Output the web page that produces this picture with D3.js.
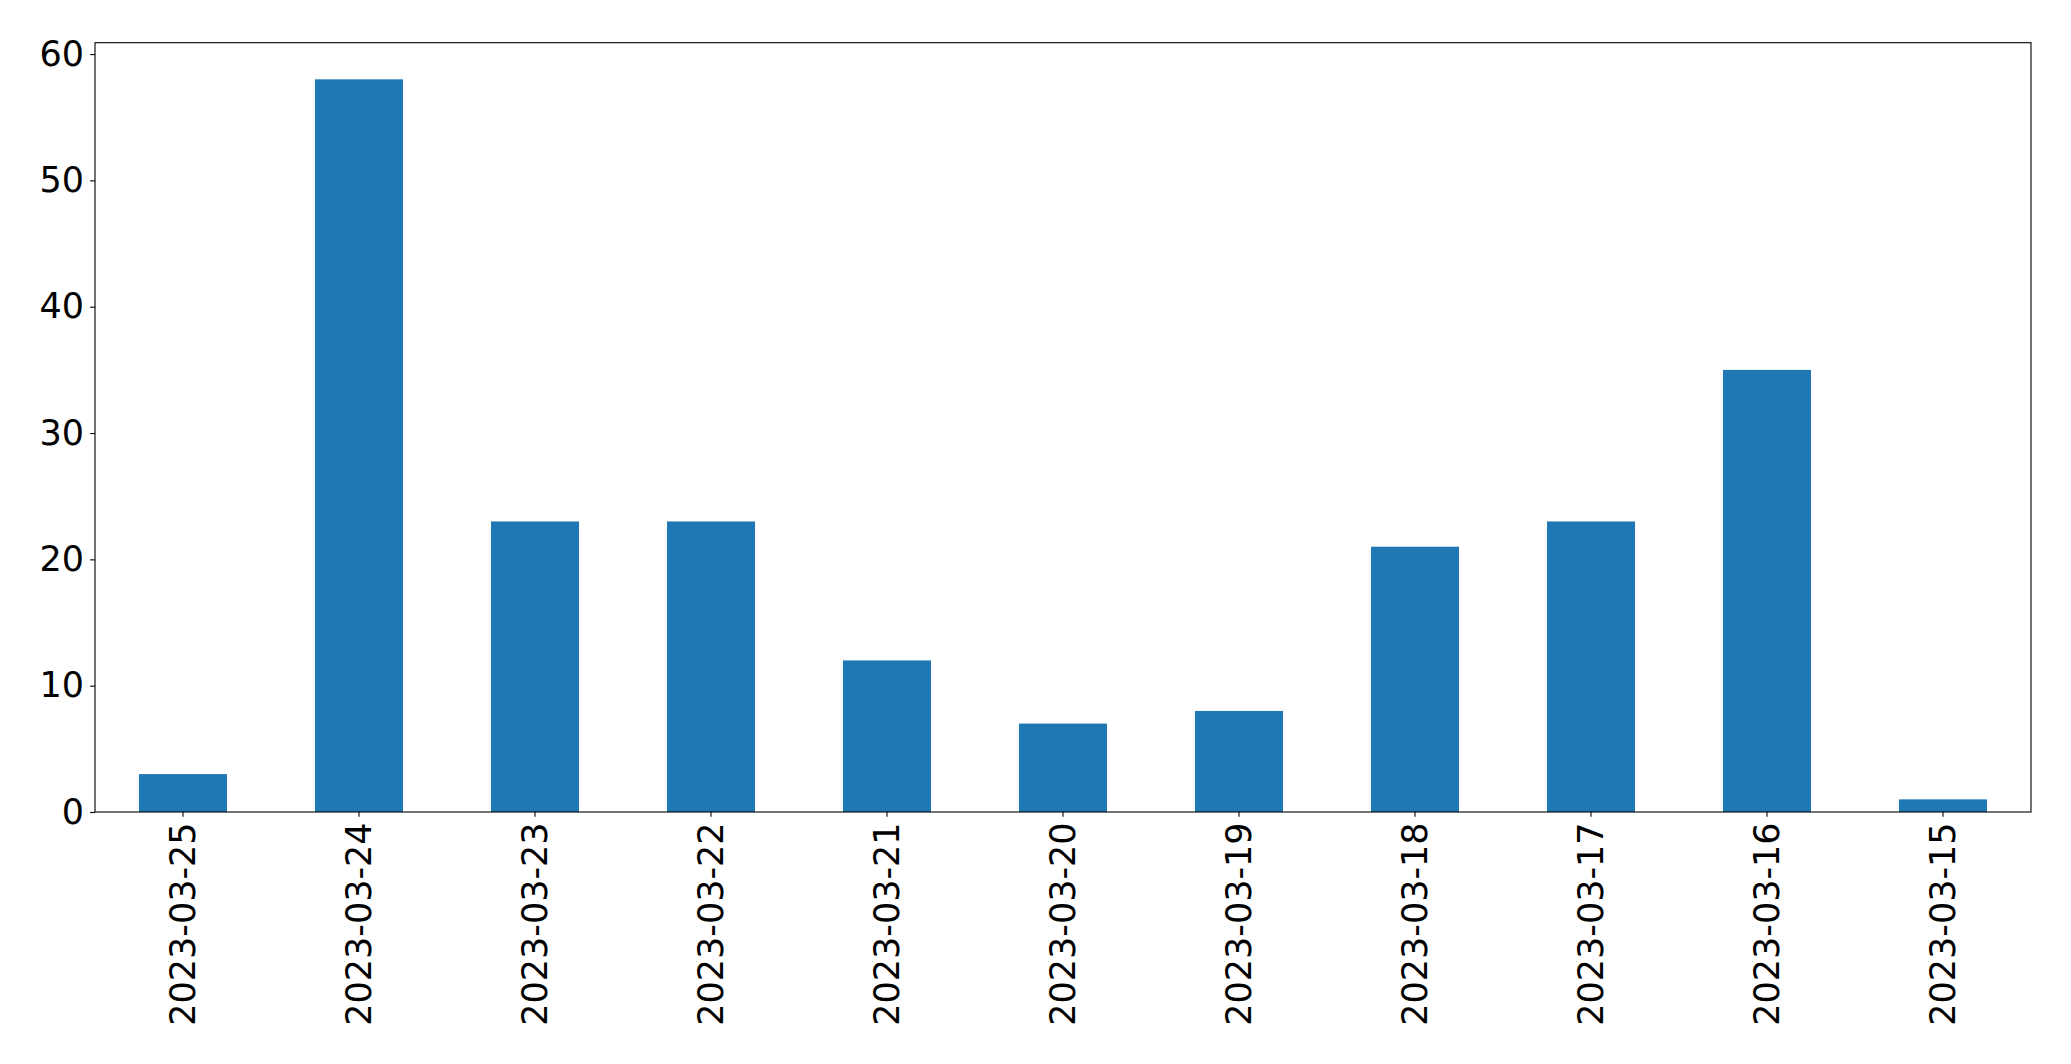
<!DOCTYPE html>
<html><head><meta charset="utf-8">
<script src="https://cdn.jsdelivr.net/npm/d3@7"></script>
<style>body{margin:0;background:#fff}svg{display:block}</style>
</head><body>
<script>
const categories = ["2023-03-25","2023-03-24","2023-03-23","2023-03-22","2023-03-21","2023-03-20","2023-03-19","2023-03-18","2023-03-17","2023-03-16","2023-03-15"];
const values = [3,58,23,23,12,7,8,21,23,35,1];
const yTicks = [0,10,20,30,40,50,60];

const W = 2071, H = 1064;
const m = {left:95, right:2031, top:42.7, bottom:812};
const svg = d3.select("body").append("svg").attr("width",W).attr("height",H);
const x = d3.scaleBand().domain(categories).range([m.left,m.right]).paddingInner(0.5).paddingOuter(0.25);
const y = d3.scaleLinear().domain([0, d3.max(values)*1.05]).range([m.bottom,m.top]);

svg.append("g").selectAll("rect").data(values).join("rect")
  .attr("x",(d,i)=>x(categories[i])).attr("width",x.bandwidth())
  .attr("y",d=>y(d)).attr("height",d=>y(0)-y(d)).attr("fill","#1f77b4");

const font = "DejaVu Sans";
const fs = "35px";
const ya = svg.append("g").attr("transform",`translate(${m.left},0)`)
  .call(d3.axisLeft(y).tickValues(yTicks).tickSize(4.86).tickPadding(6).tickFormat(d3.format("d")));
ya.select(".domain").remove();
ya.selectAll("text").style("font-family",font).style("font-size",fs).attr("fill","#000");
ya.selectAll("line").attr("stroke","#000").attr("stroke-width",1.1);

const xa = svg.append("g").attr("transform",`translate(0,${m.bottom})`)
  .call(d3.axisBottom(x).tickSize(4.86).tickPadding(4.86));
xa.select(".domain").remove();
xa.selectAll("line").attr("stroke","#000").attr("stroke-width",1.1);
xa.selectAll("text").style("font-family",font).style("font-size",fs).attr("fill","#000")
  .attr("transform","rotate(-90)").attr("text-anchor","end").attr("dy","0.35em")
  .attr("x",-(4.86+5.5)).attr("y",0);

svg.append("rect").attr("x",m.left).attr("y",m.top).attr("width",m.right-m.left).attr("height",m.bottom-m.top)
  .attr("fill","none").attr("stroke","#000").attr("stroke-width",1.1);
</script>
</body></html>
